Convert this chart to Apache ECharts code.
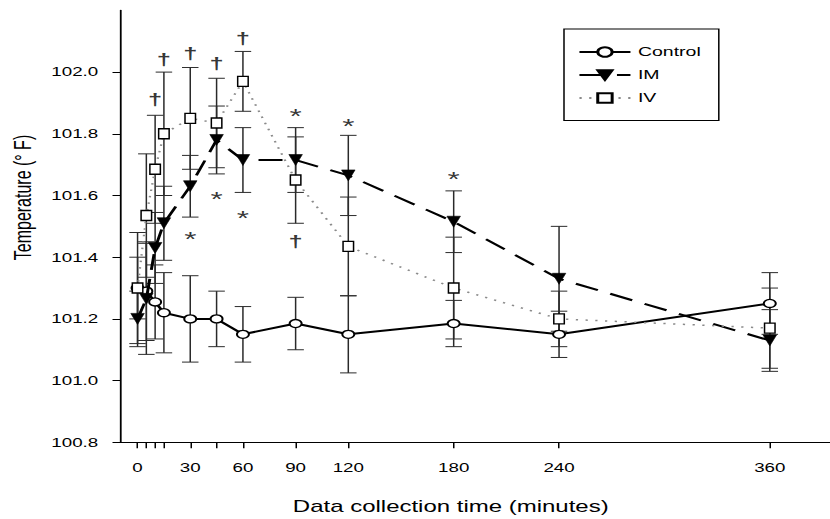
<!DOCTYPE html>
<html>
<head>
<meta charset="utf-8">
<script src="https://cdn.jsdelivr.net/npm/echarts@6/dist/echarts.min.js"></script>
<style>
html,body{margin:0;padding:0;background:#fff;overflow:hidden;}
#chart{width:554px;height:519px;transform:scaleX(1.5);transform-origin:0 0;}
</style>
</head>
<body>
<div id="chart"></div>
<script>
// ---- data ----
const minutes = [0, 5, 10, 15, 30, 45, 60, 90, 120, 180, 240, 360];
const controlMean = [101.30, 101.29, 101.255, 101.22, 101.20, 101.20, 101.15, 101.185, 101.15, 101.185, 101.15, 101.25];
const controlSE   = [0.10, 0.16, 0.12, 0.13, 0.14, 0.09, 0.09, 0.085, 0.125, 0.075, 0.075, 0.10];
const imMean = [101.20, 101.265, 101.43, 101.51, 101.63, 101.78, 101.715, 101.715, 101.665, 101.515, 101.33, 101.13];
const imSE   = [0.09, 0.18, 0.115, 0.12, 0.10, 0.11, 0.105, 0.105, 0.13, 0.10, 0.17, 0.10];
const ivMean = [101.30, 101.535, 101.685, 101.80, 101.85, 101.835, 101.97, 101.65, 101.435, 101.30, 101.20, 101.17];
const ivSE   = [0.18, 0.20, 0.175, 0.20, 0.165, 0.145, 0.097, 0.14, 0.16, 0.165, 0.09, 0.13];
const seriesNames = ['Control', 'IM', 'IV'];
const xTickValues = [0, 5, 10, 15, 30, 45, 60, 90, 120, 180, 240, 360];
const xLabelValues = [0, 30, 60, 90, 120, 180, 240, 360];
const yTickValues = [100.8, 101.0, 101.2, 101.4, 101.6, 101.8, 102.0];
const daggerTimes  = [10, 15, 30, 45, 60, 90];
const daggerValues = [101.913, 102.041, 102.061, 102.029, 102.110, 101.453];
const asteriskTimes  = [30, 45, 60, 90, 120, 180];
const asteriskValues = [101.477, 101.605, 101.544, 101.875, 101.842, 101.669];
const xTitle = 'Data collection time (minutes)';
const yTitle = 'Temperature (° F)';

const FONT = '"Liberation Sans", Arial, sans-serif';

function errorBars(mean, se) {
  return {
    type: 'custom',
    silent: true,
    z: 1,
    data: minutes.map((t, i) => [t, mean[i] - se[i], mean[i] + se[i]]),
    encode: { x: 0, y: [1, 2] },
    renderItem: function (params, api) {
      const lo = api.coord([api.value(0), api.value(1)]);
      const hi = api.coord([api.value(0), api.value(2)]);
      const hw = 5.5;
      const st = { stroke: '#2a2a2a', lineWidth: 1 };
      return {
        type: 'group',
        children: [
          { type: 'line', shape: { x1: lo[0], y1: lo[1], x2: hi[0], y2: hi[1] }, style: st },
          { type: 'line', shape: { x1: lo[0] - hw, y1: lo[1], x2: lo[0] + hw, y2: lo[1] }, style: st },
          { type: 'line', shape: { x1: hi[0] - hw, y1: hi[1], x2: hi[0] + hw, y2: hi[1] }, style: st }
        ]
      };
    }
  };
}

function pairs(vals) { return minutes.map((t, i) => [t, vals[i]]); }

const chart = echarts.init(document.getElementById('chart'), null, { renderer: 'svg' });
chart.setOption({
  animation: false,
  backgroundColor: '#fff',
  textStyle: { fontFamily: FONT },
  grid: { left: 80, right: 1, top: 10.4, bottom: 76.7, containLabel: false },
  xAxis: {
    type: 'value', min: -10, max: 394,
    axisLine: { onZero: false, lineStyle: { color: '#000', width: 1 } },
    axisTick: { show: true, length: 6, customValues: xTickValues, lineStyle: { color: '#000', width: 1 } },
    axisLabel: { customValues: xLabelValues, margin: 19, fontSize: 12.5, color: '#000', fontFamily: FONT },
    splitLine: { show: false }
  },
  yAxis: {
    type: 'value', min: 100.8, max: 102.2, interval: 0.2,
    axisLine: { show: true, onZero: false, lineStyle: { color: '#000', width: 1.2 } },
    axisTick: { show: true, length: 5, customValues: yTickValues, lineStyle: { color: '#000', width: 1 } },
    axisLabel: { customValues: yTickValues, margin: 14.5, fontSize: 12.5, color: '#000', fontFamily: FONT,
      formatter: v => Number(v).toFixed(1) },
    splitLine: { show: false }
  },
  legend: {
    data: seriesNames,
    orient: 'vertical',
    left: 376, top: 29,
    padding: [16.5, 12, 16, 9.3],
    itemWidth: 34, itemHeight: 12, itemGap: 10,
    borderColor: '#000', borderWidth: 1,
    textStyle: { fontSize: 13, color: '#000', fontFamily: FONT },
    selectedMode: false
  },
  graphic: [
    { type: 'text', x: 15, y: 197.5, rotation: Math.PI / 2,
      style: { text: yTitle, font: '16px ' + FONT, fill: '#000', align: 'center', verticalAlign: 'middle' } },
    { type: 'text', x: 300.5, y: 507, 
      style: { text: xTitle, font: '16px ' + FONT, fill: '#000', align: 'center', verticalAlign: 'middle' } }
  ],
  series: [
    errorBars(controlMean, controlSE),
    errorBars(imMean, imSE),
    errorBars(ivMean, ivSE),
    {
      name: 'Control', type: 'line', data: pairs(controlMean), z: 3,
      symbol: 'circle', symbolSize: 8, showAllSymbol: true,
      lineStyle: { color: '#000', width: 2, type: 'solid' },
      itemStyle: { color: '#fff', borderColor: '#000', borderWidth: 1.3 },
      emphasis: { disabled: true }
    },
    {
      name: 'IM', type: 'line', data: pairs(imMean), z: 4,
      symbol: 'triangle', symbolRotate: 180, symbolSize: [9, 11], showAllSymbol: true,
      lineStyle: { color: '#000', width: 2, type: [16, 9] },
      itemStyle: { color: '#000', borderColor: '#000', borderWidth: 0.5 },
      emphasis: { disabled: true }
    },
    {
      name: 'IV', type: 'line', data: pairs(ivMean), z: 5,
      symbol: 'rect', symbolSize: [7, 10], showAllSymbol: true,
      lineStyle: { color: '#8a8a8a', width: 1.5, type: [1.5, 5] },
      itemStyle: { color: '#fff', borderColor: '#000', borderWidth: 1.2 },
      emphasis: { disabled: true }
    },
    {
      type: 'scatter', silent: true, z: 6,
      data: daggerTimes.map((t, i) => [t, daggerValues[i]]),
      symbolSize: 1, itemStyle: { color: 'rgba(0,0,0,0)' },
      label: { show: true, position: 'inside', formatter: '†', fontSize: 17, fontWeight: 'bold', color: '#000', fontFamily: FONT }
    },
    {
      type: 'scatter', silent: true, z: 6,
      data: asteriskTimes.map((t, i) => [t, asteriskValues[i]]),
      symbolSize: 1, itemStyle: { color: 'rgba(0,0,0,0)' },
      label: { show: true, position: 'inside', formatter: '*', fontSize: 21, color: '#000', offset: [0, 5], fontFamily: FONT }
    }
  ]
});
</script>
</body>
</html>
